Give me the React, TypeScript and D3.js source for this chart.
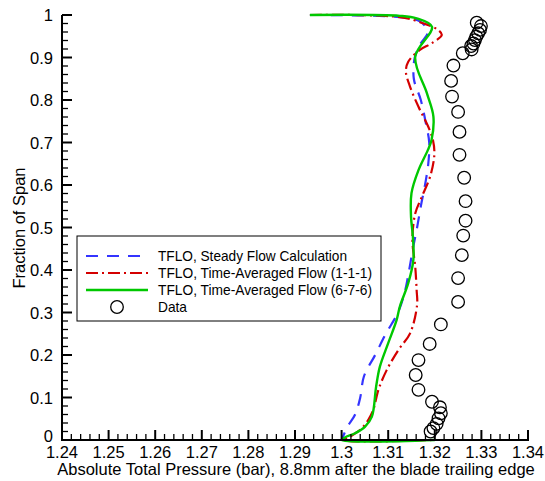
import React from "react";
import * as d3 from "d3";

const xTicks = [1.24, 1.25, 1.26, 1.27, 1.28, 1.29, 1.3, 1.31, 1.32, 1.33, 1.34];
const yTicks = [0, 0.1, 0.2, 0.3, 0.4, 0.5, 0.6, 0.7, 0.8, 0.9, 1];

// Experimental data (pressure, span)
const dataP = [1.329, 1.3299, 1.3297, 1.3293, 1.3289, 1.3286, 1.3283, 1.3278, 1.3279, 1.326, 1.324, 1.3235, 1.3237, 1.325, 1.3253, 1.3253, 1.3263, 1.3266, 1.3266, 1.3261, 1.3258, 1.325, 1.325, 1.3213, 1.3189, 1.3165, 1.3159, 1.3165, 1.3194, 1.3211, 1.3213, 1.3208, 1.3204, 1.3197, 1.3191];
const dataS = [0.982, 0.974, 0.965, 0.957, 0.949, 0.941, 0.933, 0.927, 0.919, 0.91, 0.881, 0.845, 0.808, 0.772, 0.725, 0.671, 0.617, 0.562, 0.516, 0.481, 0.435, 0.381, 0.325, 0.272, 0.226, 0.188, 0.153, 0.118, 0.09, 0.077, 0.063, 0.051, 0.038, 0.028, 0.02];

// TFLO steady
const steadyP = [1.2932, 1.3125, 1.3168, 1.3185, 1.3168, 1.3157, 1.3155, 1.317, 1.318, 1.3188, 1.3186, 1.3179, 1.317, 1.3162, 1.3153, 1.3145, 1.3136, 1.3121, 1.3095, 1.3072, 1.3048, 1.304, 1.3029, 1.3012, 1.3];
const steadyS = [1.0, 0.995, 0.985, 0.96, 0.93, 0.9, 0.85, 0.8, 0.75, 0.7, 0.65, 0.6, 0.55, 0.5, 0.45, 0.4, 0.35, 0.3, 0.25, 0.2, 0.15, 0.1, 0.06, 0.03, 0.0];

// TFLO time-averaged (1-1-1)
const ta111P = [1.2932, 1.3125, 1.3179, 1.3207, 1.3215, 1.3194, 1.3168, 1.3143, 1.3138, 1.3147, 1.3165, 1.3186, 1.3196, 1.3199, 1.319, 1.3172, 1.3158, 1.3152, 1.3158, 1.3161, 1.3162, 1.3147, 1.3122, 1.3097, 1.3079, 1.3068, 1.3057, 1.304, 1.3018, 1.3007, 1.3195];
const ta111S = [1.0, 0.995, 0.979, 0.965, 0.953, 0.934, 0.918, 0.89, 0.867, 0.831, 0.784, 0.737, 0.706, 0.671, 0.62, 0.572, 0.533, 0.471, 0.408, 0.353, 0.318, 0.251, 0.212, 0.165, 0.118, 0.071, 0.047, 0.024, 0.008, 0.0, 0.0];

// TFLO time-averaged (6-7-6)
const ta676P = [1.2932, 1.3125, 1.3161, 1.3194, 1.3158, 1.3183, 1.3197, 1.3193, 1.3185, 1.3165, 1.315, 1.3149, 1.3153, 1.3154, 1.3143, 1.3125, 1.3118, 1.31, 1.3082, 1.3074, 1.3065, 1.305, 1.3029, 1.3007, 1.3, 1.32];
const ta676S = [1.0, 0.998, 0.992, 0.972, 0.902, 0.816, 0.761, 0.706, 0.682, 0.635, 0.581, 0.525, 0.478, 0.424, 0.369, 0.314, 0.282, 0.228, 0.172, 0.125, 0.055, 0.031, 0.016, 0.006, 0.0, 0.0];

const legendLabels = [
  "TFLO, Steady Flow Calculation",
  "TFLO, Time-Averaged Flow (1-1-1)",
  "TFLO, Time-Averaged Flow (6-7-6)",
  "Data",
];

const W = 545, H = 481;
const L = 62, R = 528, T = 15, B = 440;
const FONT = "'Liberation Sans', Arial, sans-serif";

export default function App() {
  const x = d3.scaleLinear().domain([1.24, 1.34]).range([L, R]);
  const y = d3.scaleLinear().domain([0, 1]).range([B, T]);

  const line = d3
    .line<[number, number]>()
    .x((d) => x(d[0]))
    .y((d) => y(d[1]))
    .curve(d3.curveCatmullRom.alpha(0.5));

  const zip = (a: number[], b: number[]) => a.map((v, i) => [v, b[i]] as [number, number]);

  const minorX: number[] = [];
  for (let i = 0; i < xTicks.length - 1; i++)
    for (let k = 1; k < 5; k++) minorX.push(xTicks[i] + (k * 0.01) / 5);
  const minorY: number[] = [];
  for (let i = 0; i < yTicks.length - 1; i++)
    for (let k = 1; k < 5; k++) minorY.push(yTicks[i] + (k * 0.1) / 5);

  const blue = "#3434ff";
  const red = "#d40000";
  const green = "#00c800";

  const series = [
    { d: zip(steadyP, steadyS), color: blue, dash: "12,9", w: 2.2 },
    { d: zip(ta111P, ta111S), color: red, dash: "12,4,2,4", w: 2.2 },
    { d: zip(ta676P, ta676S), color: green, dash: "none", w: 2.4 },
  ];

  const legY = [256, 273, 290, 307];
  const legLen = [189, 214, 214, 29];

  return (
    <svg
      width={W}
      height={H}
      style={{ position: "absolute", left: 0, top: 0, background: "#fff" }}
      fontFamily={FONT}
    >
      <rect x={0} y={0} width={W} height={H} fill="#fff" />
      {series.map((s, i) => (
        <path
          key={i}
          d={line(s.d) || ""}
          fill="none"
          stroke={s.color}
          strokeWidth={s.w}
          strokeDasharray={s.dash}
        />
      ))}
      {dataP.map((p, i) => (
        <circle key={i} cx={x(p)} cy={y(dataS[i])} r={6.3} fill="none" stroke="#000" strokeWidth={1.3} />
      ))}
      <line x1={L} x2={R + 1} y1={B} y2={B} stroke="#000" strokeWidth={2} />
      <line x1={L} x2={L} y1={T} y2={B + 1} stroke="#000" strokeWidth={2} />
      {xTicks.map((t) => (
        <g key={"xt" + t}>
          <line x1={x(t)} x2={x(t)} y1={B} y2={B - 10} stroke="#000" strokeWidth={2} />
          <text x={x(t)} y={458} textAnchor="middle" fontSize={16.5}>
            {d3.format("")(+t.toFixed(2))}
          </text>
        </g>
      ))}
      {minorX.map((t, i) => (
        <line key={"xm" + i} x1={x(t)} x2={x(t)} y1={B} y2={B - 6} stroke="#000" strokeWidth={1.3} />
      ))}
      {yTicks.map((t) => (
        <g key={"yt" + t}>
          <line x1={L} x2={L + 10} y1={y(t)} y2={y(t)} stroke="#000" strokeWidth={2} />
          <text x={53} y={y(t) - (t === 0 ? 4 : 0)} textAnchor="end" dominantBaseline="central" fontSize={16.5}>
            {d3.format("")(+t.toFixed(1))}
          </text>
        </g>
      ))}
      {minorY.map((t, i) => (
        <line key={"ym" + i} x1={L} x2={L + 6} y1={y(t)} y2={y(t)} stroke="#000" strokeWidth={1.3} />
      ))}
      <text x={296} y={475} textAnchor="middle" fontSize={16.5}>
        Absolute Total Pressure (bar), 8.8mm after the blade trailing edge
      </text>
      <text transform={`translate(25,228) rotate(-90)`} textAnchor="middle" fontSize={16.5}>
        Fraction of Span
      </text>
      <rect x={77} y={236} width={304} height={85} fill="#fff" stroke="#000" strokeWidth={1} />
      {series.map((s, i) => (
        <line
          key={"lg" + i}
          x1={86}
          x2={148}
          y1={legY[i]}
          y2={legY[i]}
          stroke={s.color}
          strokeWidth={s.w}
          strokeDasharray={s.dash}
        />
      ))}
      <circle cx={117} cy={legY[3]} r={6.3} fill="none" stroke="#000" strokeWidth={1.3} />
      {legendLabels.map((lab, i) => (
        <text
          key={"lt" + i}
          x={158}
          y={legY[i]}
          dominantBaseline="central"
          fontSize={13.9}
          textLength={legLen[i]}
          lengthAdjust="spacingAndGlyphs"
        >
          {lab}
        </text>
      ))}
    </svg>
  );
}
